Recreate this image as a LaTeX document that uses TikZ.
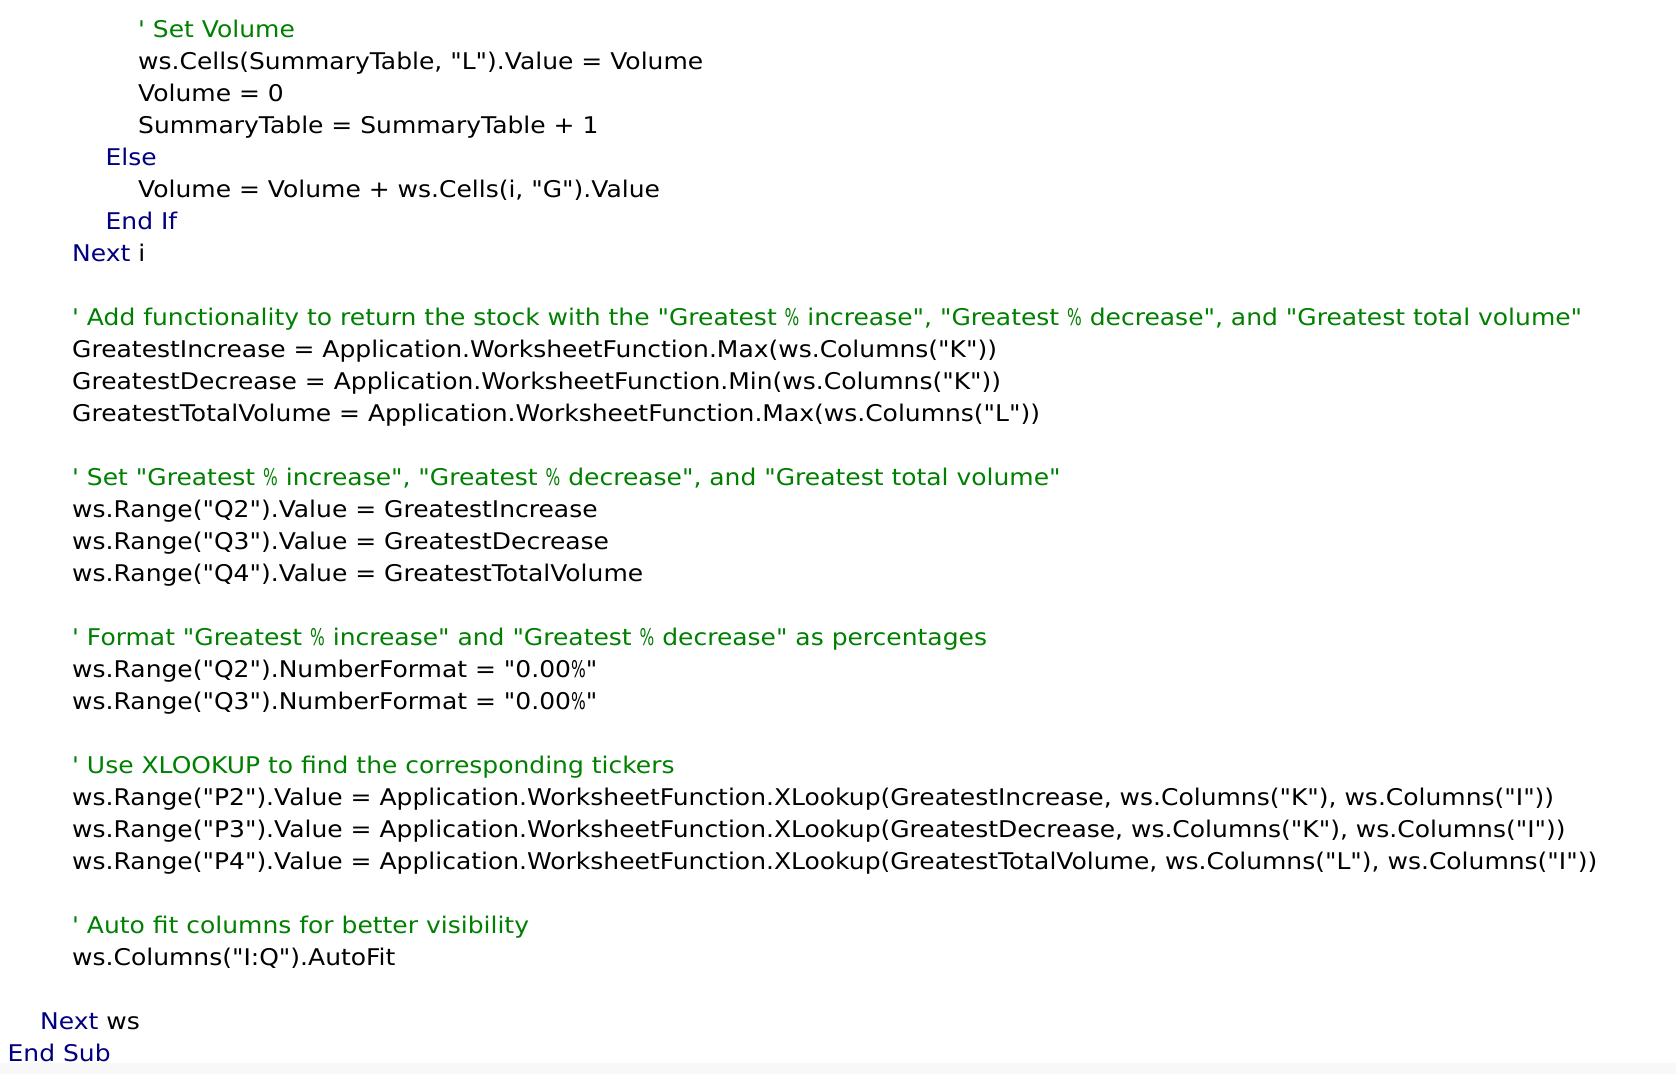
\documentclass[tikz,border=0pt]{standalone}
\usepackage{fontspec}
\usepackage{graphicx}
\newfontfamily\vbfont{DejaVu Sans}
\definecolor{vbcmt}{RGB}{0,128,0}
\definecolor{vbkw}{RGB}{0,0,128}
\definecolor{vbbot}{RGB}{248,248,248}
\newcommand\vbsz{\vbfont\fontsize{23}{28}\selectfont}
\newlength\vbLw
\newcommand\vbline[1]{\scalebox{\vbhfac}[1]{\vbsz #1}}
\newcommand\vbpct{\scalebox{0.62}[1]{\%}}
\begin{document}
\settowidth\vbLw{\vbsz ws.Range("P4").Value = Application.WorksheetFunction.XLookup(GreatestTotalVolume, ws.Columns("L"), ws.Columns("I"))}%
\pgfmathsetmacro{\vbhfacTmp}{1525/\vbLw}%
\xdef\vbhfac{\vbhfacTmp}%
\begin{tikzpicture}[x=1pt,y=-1pt,
  codeln/.style={anchor=base west, inner sep=0pt, text=black},
  cmt/.style={codeln, text=vbcmt},
  kw/.style={codeln, text=vbkw}]
\useasboundingbox (0,0) rectangle (1676,1074);
\fill[white] (0,0) rectangle (1676,1074);
\fill[vbbot] (0,1063) rectangle (1676,1074);
\def\yy#1{37.7+32*#1}
\node[cmt]    (l0)  at (138,{\yy{0}})  {\vbline{' Set Volume}};
\node[codeln] (l1)  at (138,{\yy{1}})  {\vbline{ws.Cells(SummaryTable, "L").Value = Volume}};
\node[codeln] (l2)  at (138,{\yy{2}})  {\vbline{Volume = 0}};
\node[codeln] (l3)  at (138,{\yy{3}})  {\vbline{SummaryTable = SummaryTable + 1}};
\node[kw]     (l4)  at (105.5,{\yy{4}}) {\vbline{Else}};
\node[codeln] (l5)  at (138,{\yy{5}})  {\vbline{Volume = Volume + ws.Cells(i, "G").Value}};
\node[kw]     (l6)  at (105.5,{\yy{6}}) {\vbline{End If}};
\node[codeln] (l7)  at (72,{\yy{7}})   {\vbline{\textcolor{vbkw}{Next} i}};
\node[cmt]    (l9)  at (72,{\yy{9}})   {\vbline{' Add functionality to return the stock with the "Greatest \vbpct{} increase", "Greatest \vbpct{} decrease", and "Greatest total volume"}};
\node[codeln] (l10) at (72,{\yy{10}})  {\vbline{GreatestIncrease = Application.WorksheetFunction.Max(ws.Columns("K"))}};
\node[codeln] (l11) at (72,{\yy{11}})  {\vbline{GreatestDecrease = Application.WorksheetFunction.Min(ws.Columns("K"))}};
\node[codeln] (l12) at (72,{\yy{12}})  {\vbline{GreatestTotalVolume = Application.WorksheetFunction.Max(ws.Columns("L"))}};
\node[cmt]    (l14) at (72,{\yy{14}})  {\vbline{' Set "Greatest \vbpct{} increase", "Greatest \vbpct{} decrease", and "Greatest total volume"}};
\node[codeln] (l15) at (72,{\yy{15}})  {\vbline{ws.Range("Q2").Value = GreatestIncrease}};
\node[codeln] (l16) at (72,{\yy{16}})  {\vbline{ws.Range("Q3").Value = GreatestDecrease}};
\node[codeln] (l17) at (72,{\yy{17}})  {\vbline{ws.Range("Q4").Value = GreatestTotalVolume}};
\node[cmt]    (l19) at (72,{\yy{19}})  {\vbline{' Format "Greatest \vbpct{} increase" and "Greatest \vbpct{} decrease" as percentages}};
\node[codeln] (l20) at (72,{\yy{20}})  {\vbline{ws.Range("Q2").NumberFormat = "0.00\vbpct"}};
\node[codeln] (l21) at (72,{\yy{21}})  {\vbline{ws.Range("Q3").NumberFormat = "0.00\vbpct"}};
\node[cmt]    (l23) at (72,{\yy{23}})  {\vbline{' Use XLOOKUP to find the corresponding tickers}};
\node[codeln] (l24) at (72,{\yy{24}})  {\vbline{ws.Range("P2").Value = Application.WorksheetFunction.XLookup(GreatestIncrease, ws.Columns("K"), ws.Columns("I"))}};
\node[codeln] (l25) at (72,{\yy{25}})  {\vbline{ws.Range("P3").Value = Application.WorksheetFunction.XLookup(GreatestDecrease, ws.Columns("K"), ws.Columns("I"))}};
\node[codeln] (l26) at (72,{\yy{26}})  {\vbline{ws.Range("P4").Value = Application.WorksheetFunction.XLookup(GreatestTotalVolume, ws.Columns("L"), ws.Columns("I"))}};
\node[cmt]    (l28) at (72,{\yy{28}})  {\vbline{' Auto fit columns for better visibility}};
\node[codeln] (l29) at (72,{\yy{29}})  {\vbline{ws.Columns("I:Q").AutoFit}};
\node[codeln] (l31) at (40,{\yy{31}})  {\vbline{\textcolor{vbkw}{Next} ws}};
\node[kw]     (l32) at (7.5,{\yy{32}}) {\vbline{End Sub}};
\end{tikzpicture}
\end{document}
